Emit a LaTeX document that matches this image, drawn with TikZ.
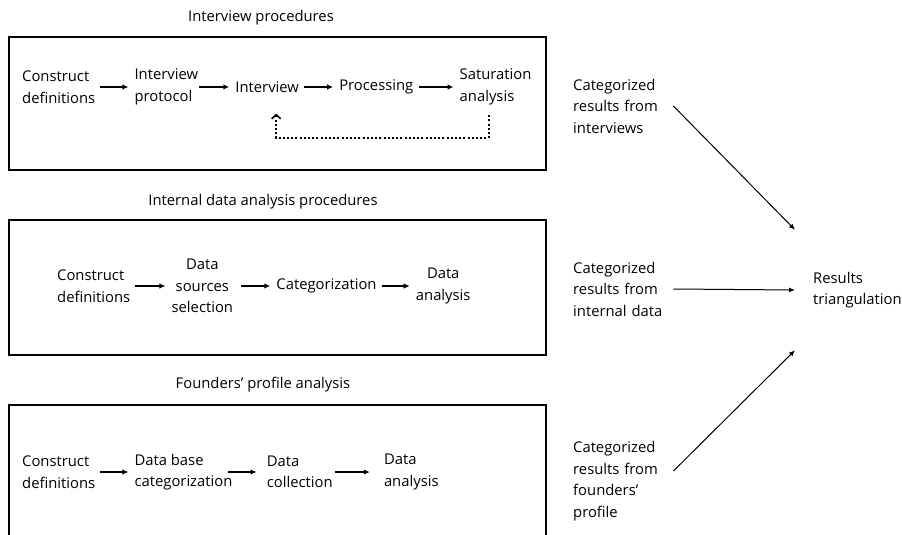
\documentclass[tikz,border=0pt]{standalone}
\usepackage{fontspec}
\setmainfont{Open Sans}
\usetikzlibrary{fit,positioning,arrows.meta}

\begin{document}
\begin{tikzpicture}[x=1pt,y=-1pt]
	\tikzstyle{txt}=[inner sep=0pt, align=left, font=\fontsize{14.8}{21.5}\selectfont]
	\tikzstyle{ctxt}=[txt, align=center]
	\tikzstyle{connect}=[-{Latex[length=6pt,width=5.5pt]}, line width=1.5pt, shorten <=5pt, shorten >=6pt]
	\tikzstyle{thin}=[-{Latex[length=6pt,width=5pt]}, line width=1pt]
	\tikzstyle{back}=[-{Straight Barb[length=4pt,width=9pt,line width=1.6pt]}, line width=2pt, dash pattern=on 2pt off 2.2pt]
	\tikzstyle{box}=[rectangle, draw=black, line width=1.6pt, inner sep=0pt]
	\clip (0,0) rectangle (902,535);
	\node[txt] (t1) at (261,18) {Interview procedures};
	\node[box, fit={(9,37) (546,170)}] (ibox) {};
	\node[txt] (cd1) [anchor=west] at (22,87) {Construct\\definitions};
		\node[txt] (ip1) [right=39pt of cd1] {Interview\\protocol};
		\node[txt] (iv1) [right=37pt of ip1] {Interview};
		\node[txt] (pr1) [right=40pt of iv1] {Processing};
		\node[txt] (sa1) [right=46pt of pr1] {Saturation\\analysis};
	\node[txt] (t2) at (263,202) {Internal data analysis procedures};
	\node[box, fit={(9,220) (546,355)}] (dbox) {};
	\node[txt] (cd2) [anchor=west] at (57,286) {Construct\\definitions};
		\node[ctxt] (ds2) [right=41pt of cd2] {Data\\sources\\selection};
		\node[txt] (ca2) [right=43pt of ds2] {Categorization};
		\node[ctxt] (da2) [right=39pt of ca2] {Data\\analysis};
	\node[txt] (t3) at (263,385) {Founders’ profile analysis};
	\node[box, fit={(9,405) (546,560)}] (fbox) {};
	\node[txt] (cd3) [anchor=west] at (22,472) {Construct\\definitions};
		\node[txt] (db3) [right=39pt of cd3] {Data base\\categorization};
		\node[txt] (dc3) [right=34pt of db3] {Data\\collection};
		\node[txt] (da3) [right=51pt of dc3] {Data\\analysis};
	\node[txt, text width=100pt] (ri) [anchor=west] at (573,106) {Categorized\\results from\\interviews};
	\node[txt, text width=100pt] (rd) [anchor=west] at (573,289) {Categorized\\results from\\internal data};
	\node[txt, text width=100pt] (rf) [anchor=west] at (573,481) {Categorized\\results from\\founders’\\profile};
	\node[txt, minimum height=120pt, inner xsep=18pt] (tri) [anchor=west] at (795,290) {Results\\triangulation};
	\path (cd1) edge [connect] (ip1)
	(ip1) edge [connect, shorten <=1pt] (iv1)
	(iv1) edge [connect] (pr1)
	(pr1) edge [connect] (sa1)
	(cd2) edge [connect] (ds2)
	(ds2) edge [connect, shorten <=8pt] (ca2)
	(ca2) edge [connect] (da2)
	(cd3) edge [connect] (db3)
	([xshift=-5pt]db3.east) edge [connect, shorten <=0pt, shorten >=10pt] (dc3.west)
	(dc3.east) edge [connect, shorten <=2pt, shorten >=14pt] (da3.west);
	\draw[back] ([xshift=-7pt,yshift=-10pt]sa1.south) -- ++(0,23) -| ([xshift=9pt,yshift=-21pt]iv1.south);
	\draw[thin] (ri.east) -- (tri.north west);
	\draw[thin] (rd.east) -- (tri.west);
	\draw[thin] ([yshift=10pt]rf.east) -- (tri.south west);
\end{tikzpicture}
\end{document}
